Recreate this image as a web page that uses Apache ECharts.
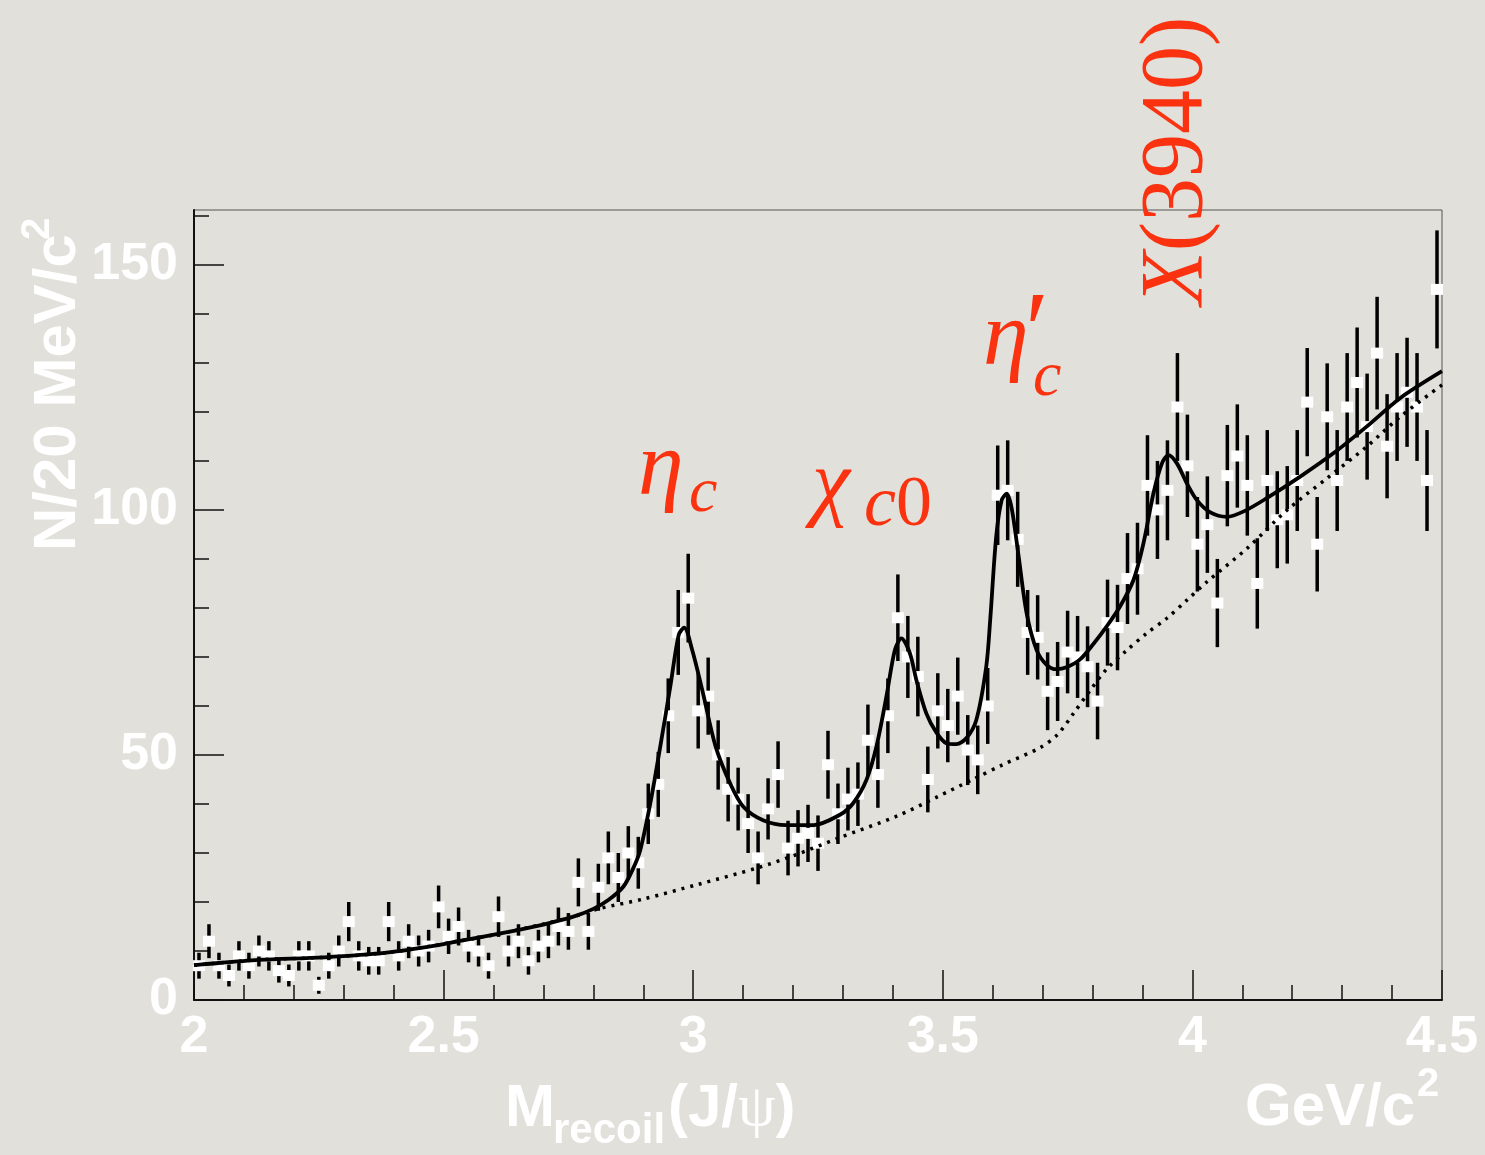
<!DOCTYPE html>
<html>
<head>
<meta charset="utf-8">
<script src="https://cdn.jsdelivr.net/npm/echarts@6/dist/echarts.min.js"></script>
<style>
  html, body { margin: 0; padding: 0; background: #e1e0da; }
  #chart { width: 1485px; height: 1155px; }
</style>
</head>
<body>
<div id="chart"></div>
<script>
// 20 MeV bins from 2.00 to 4.50 GeV/c^2
var binStart = 2.0;
var binWidth = 0.02;
var counts = [
  7, 12, 7, 5, 9, 7, 10, 9, 6, 5,
  9, 9, 3, 7, 10, 16, 9, 8, 8, 16,
  9, 12, 10, 11, 19, 13, 15, 11, 10, 7,
  17, 10, 12, 8, 11, 12, 15, 14, 24, 14,
  23, 29, 25, 30, 28, 38, 44, 58, 75, 82,
  59, 62, 50, 43, 41, 36, 29, 39, 46, 31,
  33, 34, 32, 48, 38, 41, 42, 53, 46, 58,
  78, 70, 66, 45, 59, 56, 62, 51, 49, 60,
  103, 104, 94, 75, 74, 63, 65, 71, 70, 68,
  61, 77, 76, 86, 88, 105, 100, 104, 121, 109,
  93, 97, 81, 107, 111, 105, 85, 106, 98, 99,
  106, 122, 93, 119, 106, 121, 126, 117, 132, 113,
  121, 124, 121, 106, 145
];

// total fit (signal + background)
var fitTotal = [
  [2.00, 7.1], [2.02, 7.3], [2.13, 8.2], [2.26, 8.7], [2.39, 9.7], [2.49, 11.2],
  [2.53, 12.0], [2.63, 13.9], [2.70, 15.4], [2.76, 17.0], [2.80, 18.6], [2.83, 20.4],
  [2.86, 23.1], [2.88, 26.9], [2.894, 30.6], [2.914, 40.1], [2.934, 51.7], [2.954, 63.9],
  [2.971, 74.5], [2.982, 76.0], [2.998, 71.4], [3.018, 63.3], [3.045, 51.7], [3.074, 44.2],
  [3.10, 39.5], [3.14, 36.7], [3.187, 35.7], [3.241, 35.7], [3.294, 37.8], [3.32, 40.1],
  [3.347, 44.9], [3.367, 51.7], [3.387, 61.9], [3.404, 71.4], [3.417, 73.8], [3.434, 70.8],
  [3.447, 65.3], [3.467, 58.5], [3.487, 54.6], [3.507, 52.4], [3.527, 52.2], [3.547, 53.4],
  [3.567, 57.1], [3.587, 68.0], [3.595, 77.6], [3.607, 94.6], [3.618, 102.0], [3.628, 103.3],
  [3.638, 100.3], [3.651, 91.2], [3.668, 78.9], [3.688, 71.4], [3.708, 68.4], [3.728, 67.5],
  [3.748, 67.9], [3.775, 69.5], [3.802, 72.7], [3.828, 76.2], [3.855, 80.3], [3.882, 85.7],
  [3.902, 93.2], [3.922, 103.4], [3.939, 109.5], [3.952, 111.2], [3.969, 109.5], [3.989, 105.4],
  [4.009, 102.0], [4.036, 99.5], [4.069, 98.6], [4.103, 99.7], [4.149, 102.4], [4.216, 106.8],
  [4.283, 111.6], [4.349, 117.0], [4.416, 122.8], [4.50, 128.3]
];

// background component of the fit
var fitBkg = [
  [2.00, 7.1], [2.13, 8.2], [2.26, 8.7], [2.39, 9.7], [2.53, 12.0], [2.63, 13.9],
  [2.76, 17.0], [2.81, 18.6], [2.90, 20.6], [3.01, 23.6], [3.13, 27.0], [3.21, 29.8],
  [3.29, 33.0], [3.41, 37.6], [3.49, 41.5], [3.56, 45.0], [3.62, 48.0], [3.695, 51.5],
  [3.73, 54.2], [3.762, 58.5], [3.796, 63.3], [3.828, 67.5], [3.868, 71.3], [3.908, 74.8],
  [3.949, 77.9], [3.989, 81.6], [4.03, 85.4], [4.11, 92.2], [4.19, 100.0], [4.27, 106.5],
  [4.349, 112.9], [4.416, 119.0], [4.50, 125.5]
];

var xTicks = [2, 2.5, 3, 3.5, 4, 4.5];
var yTicks = [0, 50, 100, 150];
var yMinorTicks = [0, 10, 20, 30, 40, 50, 60, 70, 80, 90, 100, 110, 120, 130, 140, 150, 160];

var points = counts.map(function (n, i) {
  return [binStart + binWidth * (i + 0.5), n];
});

var red = '#fa3210';
var serif = '"Liberation Serif", "DejaVu Serif", serif';
var sans = '"Liberation Sans", Arial, sans-serif';

var myChart = echarts.init(document.getElementById('chart'));
var option = {
  backgroundColor: '#e1e0da',
  animation: false,
  grid: {
    left: 194, right: 43, top: 210, bottom: 155,
    show: true, borderColor: '#555', borderWidth: 1,
    outerBoundsMode: 'none'
  },
  xAxis: {
    type: 'value', min: 2, max: 4.5, interval: 0.5,
    axisLine: { lineStyle: { color: '#111', width: 2 } },
    axisTick: { inside: true, length: 30, lineStyle: { color: '#111', width: 1.5 } },
    minorTick: { show: true, splitNumber: 5, length: 15, lineStyle: { color: '#111', width: 1.5 } },
    splitLine: { show: false },
    axisLabel: {
      color: '#fff', fontSize: 52, fontWeight: 'bold', fontFamily: sans, margin: 12,
      showMinLabel: true, showMaxLabel: true,
      formatter: function (v) { return xTicks.indexOf(v) >= 0 ? String(v) : ''; }
    }
  },
  yAxis: [{
    type: 'value', min: 0, max: 161.2, interval: 10, position: 'left',
    axisLine: { show: true, lineStyle: { color: '#111', width: 2 } },
    axisTick: { show: true, inside: true, length: 15, customValues: yMinorTicks,
      lineStyle: { color: '#111', width: 1.5 } },
    splitLine: { show: false },
    axisLabel: {
      color: '#fff', fontSize: 52, fontWeight: 'bold', fontFamily: sans, margin: 16,
      customValues: yTicks,
      formatter: function (v) { return String(v); }
    }
  }, {
    type: 'value', min: 0, max: 161.2, interval: 50, position: 'left',
    axisLine: { show: false },
    axisTick: { show: true, inside: true, length: 30, customValues: yTicks,
      lineStyle: { color: '#111', width: 1.5 } },
    splitLine: { show: false },
    axisLabel: { show: false }
  }],
  series: [{
    name: 'background', type: 'line', data: fitBkg, symbol: 'none',
    smooth: 0.3,
    lineStyle: { color: '#000', width: 3.5, type: [3, 6] }
  }, {
    name: 'fit', type: 'line', data: fitTotal, symbol: 'none',
    smooth: 0.3,
    lineStyle: { color: '#000', width: 3.8 }
  }, {
    name: 'data', type: 'custom', data: points,
    renderItem: function (params, api) {
      var x = api.value(0), n = api.value(1);
      var err = Math.sqrt(n); // Poisson error bar
      var c = api.coord([x, n]);
      var top = api.coord([x, n + err]);
      var bot = api.coord([x, Math.max(n - err, 0)]);
      return {
        type: 'group',
        children: [{
          type: 'line',
          shape: { x1: c[0], y1: top[1], x2: c[0], y2: bot[1] },
          style: { stroke: '#000', lineWidth: 3.5 }
        }, {
          type: 'rect',
          shape: { x: c[0] - 6, y: c[1] - 5.5, width: 12, height: 11 },
          style: { fill: '#fff' }
        }]
      };
    }
  }],
  graphic: [
    // y axis title
    { type: 'text', x: 58, y: 551, rotation: Math.PI / 2,
      style: { text: 'N/20 MeV/c', fill: '#fff', font: 'bold 60px ' + sans, align: 'left', verticalAlign: 'middle' } },
    { type: 'text', x: 38, y: 240, rotation: Math.PI / 2,
      style: { text: '2', fill: '#fff', font: 'bold 40px ' + sans, align: 'left', verticalAlign: 'middle' } },
    // x axis title
    { type: 'text', x: 505, y: 1109,
      style: { text: 'M', fill: '#fff', font: 'bold 60px ' + sans, align: 'left', verticalAlign: 'middle' } },
    { type: 'text', x: 553, y: 1131,
      style: { text: 'recoil', fill: '#fff', font: 'bold 42px ' + sans, align: 'left', verticalAlign: 'middle' } },
    { type: 'text', x: 668, y: 1109,
      style: {
        text: '{b|(J/}{p|ψ}{b|)}', align: 'left', verticalAlign: 'middle',
        rich: {
          b: { fill: '#fff', fontSize: 60, fontWeight: 'bold', fontFamily: sans },
          p: { fill: '#fff', fontSize: 60, fontFamily: serif }
        }
      } },
    { type: 'text', x: 1245, y: 1108,
      style: { text: 'GeV/c', fill: '#fff', font: 'bold 60px ' + sans, align: 'left', verticalAlign: 'middle' } },
    { type: 'text', x: 1417, y: 1085,
      style: { text: '2', fill: '#fff', font: 'bold 40px ' + sans, align: 'left', verticalAlign: 'middle' } },
    // peak labels
    { type: 'text', x: 638, y: 470,
      style: { text: 'η', fill: red, font: 'italic 92px ' + serif, align: 'left', verticalAlign: 'middle' } },
    { type: 'text', x: 689, y: 494,
      style: { text: 'c', fill: red, font: 'italic 64px ' + serif, align: 'left', verticalAlign: 'middle' } },
    { type: 'text', x: 812, y: 486,
      style: { text: 'χ', fill: red, font: 'italic 86px ' + serif, align: 'left', verticalAlign: 'middle' } },
    { type: 'text', x: 864, y: 506,
      style: {
        text: '{i|c}{r|0}', align: 'left', verticalAlign: 'middle',
        rich: {
          i: { fill: red, fontSize: 72, fontStyle: 'italic', fontFamily: serif },
          r: { fill: red, fontSize: 72, fontFamily: serif }
        }
      } },
    { type: 'text', x: 983, y: 340,
      style: { text: 'η', fill: red, font: 'italic 92px ' + serif, align: 'left', verticalAlign: 'middle' } },
    { type: 'text', x: 1025, y: 338,
      style: { text: '′', fill: red, font: '110px ' + serif, align: 'left', verticalAlign: 'middle' } },
    { type: 'text', x: 1033, y: 378,
      style: { text: 'c', fill: red, font: 'italic 64px ' + serif, align: 'left', verticalAlign: 'middle' } },
    { type: 'text', x: 1178, y: 305, rotation: Math.PI / 2,
      style: {
        text: '{i|X}{r|(3940)}', align: 'left', verticalAlign: 'middle',
        rich: {
          i: { fill: red, fontSize: 88, fontStyle: 'italic', fontFamily: serif },
          r: { fill: red, fontSize: 88, fontFamily: serif }
        }
      } }
  ]
};
myChart.setOption(option);
window.addEventListener('resize', function () { myChart.resize(); });
</script>
</body>
</html>
